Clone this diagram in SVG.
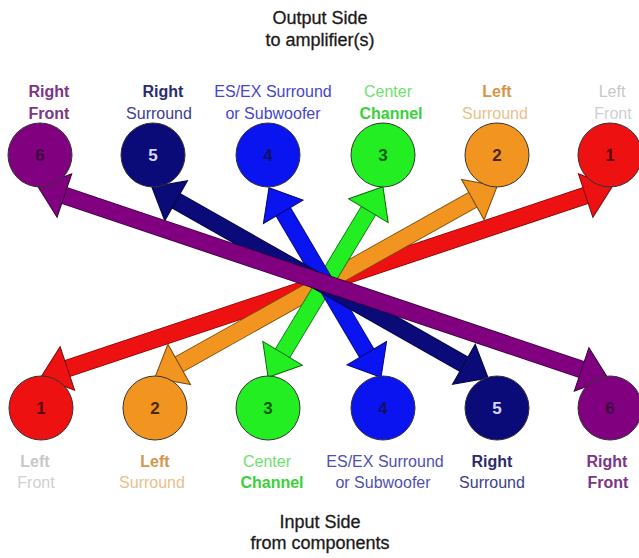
<svg xmlns="http://www.w3.org/2000/svg" width="639" height="558" viewBox="0 0 639 558">
<style>
text{font-family:"Liberation Sans",Arial,sans-serif;text-anchor:middle}
.t{font-size:18px;fill:#1a1a1a;stroke:#1a1a1a;stroke-width:0.3}
.l{font-size:16px}
.b{font-weight:bold}
.n{font-size:17px;font-weight:bold}
.c{stroke:#333;stroke-width:1}
.sh{stroke-width:16;fill:none}
.so{stroke-width:17.6;fill:none}
</style>
<defs>
<marker id="hRed" markerUnits="userSpaceOnUse" orient="auto-start-reverse" refX="2" refY="0" markerWidth="30" markerHeight="50" overflow="visible"><path d="M0,-23 L28,0 L0,23 Z" fill="#ee1111" stroke="#7a0a0a" stroke-width="1"/></marker>
<marker id="hOra" markerUnits="userSpaceOnUse" orient="auto-start-reverse" refX="2" refY="0" markerWidth="30" markerHeight="50" overflow="visible"><path d="M0,-23 L28,0 L0,23 Z" fill="#f29420" stroke="#7a4a0a" stroke-width="1"/></marker>
<marker id="hGre" markerUnits="userSpaceOnUse" orient="auto-start-reverse" refX="2" refY="0" markerWidth="30" markerHeight="50" overflow="visible"><path d="M0,-23 L28,0 L0,23 Z" fill="#22ee22" stroke="#0a6a0a" stroke-width="1"/></marker>
<marker id="hBlu" markerUnits="userSpaceOnUse" orient="auto-start-reverse" refX="2" refY="0" markerWidth="30" markerHeight="50" overflow="visible"><path d="M0,-23 L28,0 L0,23 Z" fill="#0a14f0" stroke="#05086a" stroke-width="1"/></marker>
<marker id="hNav" markerUnits="userSpaceOnUse" orient="auto-start-reverse" refX="2" refY="0" markerWidth="30" markerHeight="50" overflow="visible"><path d="M0,-23 L28,0 L0,23 Z" fill="#0a0a78" stroke="#05053a" stroke-width="1"/></marker>
<marker id="hPur" markerUnits="userSpaceOnUse" orient="auto-start-reverse" refX="2" refY="0" markerWidth="30" markerHeight="50" overflow="visible"><path d="M0,-23 L28,0 L0,23 Z" fill="#800080" stroke="#3a003a" stroke-width="1"/></marker>
</defs>
<rect width="639" height="558" fill="#ffffff"/>

<g id="titles">
<text class="t" x="320" y="24">Output Side</text>
<text class="t" x="320" y="46">to amplifier(s)</text>
<text class="t" x="320" y="528">Input Side</text>
<text class="t" x="320" y="549">from components</text>
</g>

<g id="connectors">
<g id="arrow-red">
<line class="so" x1="587.5" y1="194.9" x2="65.5" y2="369.1" stroke="#7a0a0a"/>
<line class="sh" x1="587.5" y1="194.9" x2="65.5" y2="369.1" stroke="#ee1111" marker-start="url(#hRed)" marker-end="url(#hRed)"/>
</g>
<g id="arrow-orange">
<line class="so" x1="474.6" y1="198.7" x2="177.4" y2="365.3" stroke="#7a4a0a"/>
<line class="sh" x1="474.6" y1="198.7" x2="177.4" y2="365.3" stroke="#f29420" marker-start="url(#hOra)" marker-end="url(#hOra)"/>
</g>
<g id="arrow-green">
<line class="so" x1="369.5" y1="209.0" x2="281.5" y2="355.0" stroke="#0a6a0a"/>
<line class="sh" x1="369.5" y1="209.0" x2="281.5" y2="355.0" stroke="#22ee22" marker-start="url(#hGre)" marker-end="url(#hGre)"/>
</g>
<g id="arrow-blue">
<line class="so" x1="282.2" y1="210.1" x2="367.8" y2="354.9" stroke="#05086a"/>
<line class="sh" x1="282.2" y1="210.1" x2="367.8" y2="354.9" stroke="#0a14f0" marker-start="url(#hBlu)" marker-end="url(#hBlu)"/>
</g>
<g id="arrow-navy">
<line class="so" x1="174.4" y1="199.8" x2="465.6" y2="365.2" stroke="#05053a"/>
<line class="sh" x1="174.4" y1="199.8" x2="465.6" y2="365.2" stroke="#0a0a78" marker-start="url(#hNav)" marker-end="url(#hNav)"/>
</g>
<g id="arrow-purple">
<line class="so" x1="62.5" y1="194.9" x2="583.5" y2="370.1" stroke="#3a003a"/>
<line class="sh" x1="62.5" y1="194.9" x2="583.5" y2="370.1" stroke="#800080" marker-start="url(#hPur)" marker-end="url(#hPur)"/>
</g>
</g>

<!-- Output side (top) -->
<g id="out-6">
<text class="l b" x="49" y="97" fill="#7d3585">Right</text>
<text class="l b" x="49" y="119" fill="#7d3585">Front</text>
<circle class="c" cx="40" cy="155" r="32" fill="#800080"/>
<text class="n" x="40" y="161" fill="#3d0a40">6</text>
</g>
<g id="out-5">
<text class="l b" x="163" y="97" fill="#2b2b6e">Right</text>
<text class="l" x="159" y="119" fill="#40408a">Surround</text>
<circle class="c" cx="153" cy="155" r="32" fill="#0a0a78"/>
<text class="n" x="153" y="161" fill="#d8d8ff">5</text>
</g>
<g id="out-4">
<text class="l" x="273" y="97" fill="#4646c8">ES/EX Surround</text>
<text class="l" x="273" y="119" fill="#4646c8">or Subwoofer</text>
<circle class="c" cx="268" cy="155" r="32" fill="#0a14f0"/>
<text class="n" x="268" y="161" fill="#10106a">4</text>
</g>
<g id="out-3">
<text class="l" x="388" y="97" fill="#70e070">Center</text>
<text class="l b" x="391" y="119" fill="#3ad03a">Channel</text>
<circle class="c" cx="383" cy="155" r="32" fill="#22ee22"/>
<text class="n" x="383" y="161" fill="#0f5a0f">3</text>
</g>
<g id="out-2">
<text class="l b" x="497" y="97" fill="#d4964a">Left</text>
<text class="l" x="495" y="119" fill="#e8c08c">Surround</text>
<circle class="c" cx="497" cy="155" r="32" fill="#f29420"/>
<text class="n" x="497" y="161" fill="#4a2800">2</text>
</g>
<g id="out-1">
<text class="l" x="612" y="97" fill="#c8c8c8">Left</text>
<text class="l" x="613" y="119" fill="#d0d0d0">Front</text>
<circle class="c" cx="610" cy="155" r="32" fill="#ee1111"/>
<text class="n" x="610" y="161" fill="#5a0505">1</text>
</g>

<!-- Input side (bottom) -->
<g id="in-1">
<circle class="c" cx="41" cy="408" r="32" fill="#ee1111"/>
<text class="n" x="41" y="414" fill="#5a0505">1</text>
<text class="l b" x="35" y="467" fill="#c8c8c8">Left</text>
<text class="l" x="36" y="488" fill="#d0d0d0">Front</text>
</g>
<g id="in-2">
<circle class="c" cx="155" cy="408" r="32" fill="#f29420"/>
<text class="n" x="155" y="414" fill="#4a2800">2</text>
<text class="l b" x="155" y="467" fill="#d4964a">Left</text>
<text class="l" x="152" y="488" fill="#e8c08c">Surround</text>
</g>
<g id="in-3">
<circle class="c" cx="268" cy="408" r="32" fill="#22ee22"/>
<text class="n" x="268" y="414" fill="#0f5a0f">3</text>
<text class="l" x="267" y="467" fill="#70e070">Center</text>
<text class="l b" x="272" y="488" fill="#3ad03a">Channel</text>
</g>
<g id="in-4">
<circle class="c" cx="383" cy="408" r="32" fill="#0a14f0"/>
<text class="n" x="383" y="414" fill="#10106a">4</text>
<text class="l" x="385" y="467" fill="#5050b0">ES/EX Surround</text>
<text class="l" x="383" y="488" fill="#5050b0">or Subwoofer</text>
</g>
<g id="in-5">
<circle class="c" cx="497" cy="408" r="32" fill="#0a0a78"/>
<text class="n" x="497" y="414" fill="#d8d8ff">5</text>
<text class="l b" x="492" y="467" fill="#2b2b6e">Right</text>
<text class="l" x="492" y="488" fill="#40408a">Surround</text>
</g>
<g id="in-6">
<circle class="c" cx="610" cy="408" r="32" fill="#800080"/>
<text class="n" x="610" y="414" fill="#3d0a40">6</text>
<text class="l b" x="607" y="467" fill="#7d3585">Right</text>
<text class="l b" x="608" y="488" fill="#7d3585">Front</text>
</g>
</svg>
